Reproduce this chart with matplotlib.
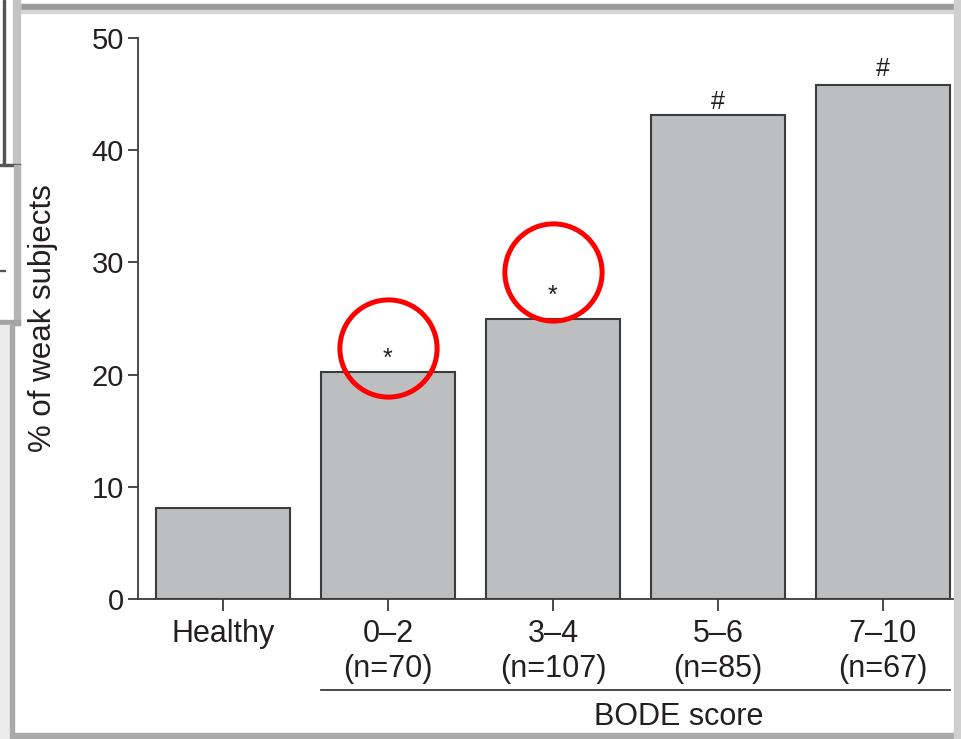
import matplotlib
matplotlib.use('Agg')
import matplotlib.pyplot as plt
import matplotlib.patches as mpatches
import matplotlib.transforms as mtransforms

# data
groups = ['Healthy', '0\u20132\n(n=70)', '3\u20134\n(n=107)', '5\u20136\n(n=85)', '7\u201310\n(n=67)']
pct_weak = [8.1, 20.2, 25.0, 43.1, 45.8]
sig_marks = ['', '*', '*', '#', '#']
sig_offset = [0, 1.2, 2.0, 1.2, 1.4]
circled = [1, 2]            # bars whose mark is circled in red
circle_offset = [2.2, 4.1]

plt.rcParams['font.family'] = ['Liberation Sans', 'DejaVu Sans']
txt = '#231f20'

fig = plt.figure(figsize=(9.61, 7.39), dpi=100)
ax = fig.add_axes([138 / 961, 1 - 599 / 739, 1 - 138 / 961, 561 / 739])

x = list(range(len(groups)))
ax.bar(x, pct_weak, width=0.81, color='#bdbec0', edgecolor='#3c3c3c', linewidth=1.5, zorder=2)

for i, (v, m, off) in enumerate(zip(pct_weak, sig_marks, sig_offset)):
    if m:
        ax.text(i, v + off, m, ha='center', va='center', fontsize=18,
                color=txt, zorder=3)

for i, off in zip(circled, circle_offset):
    ax.plot(i, pct_weak[i] + off, marker='o', markersize=70, markerfacecolor='none',
            markeredgecolor='#ff0000', markeredgewidth=3.6, clip_on=False, zorder=4)

ax.set_xlim(-0.515, 4.473)
ax.set_ylim(0, 50)
ax.set_yticks([0, 10, 20, 30, 40, 50])
ax.set_xticks(x)
ax.set_xticklabels(groups, fontsize=22, color=txt, linespacing=1.2)
ax.tick_params(axis='y', labelsize=21, labelcolor=txt, length=7, width=1.3, pad=3, color='#3c3c3c')
ax.tick_params(axis='x', length=8.5, width=1.3, pad=6, color='#3c3c3c')

for s in ['top', 'right']:
    ax.spines[s].set_visible(False)
for s in ['left', 'bottom']:
    ax.spines[s].set_linewidth(1.3)
    ax.spines[s].set_color('#3c3c3c')

ax.set_ylabel('% of weak subjects', fontsize=22.5, color=txt, labelpad=24)

# BODE score bracket under the COPD groups
trans = mtransforms.blended_transform_factory(ax.transData, ax.transAxes)
ax.plot([1 - 0.405, 4 + 0.405], [-0.162, -0.162], transform=trans, color='#3c3c3c',
        linewidth=1.3, clip_on=False)
ax.text(2.76, -0.21, 'BODE score', transform=trans, ha='center', va='center',
        fontsize=22, color=txt)

# screenshot frame
def frame(x0, y0, w, h, c):
    fig.patches.append(mpatches.Rectangle((x0 / 961, 1 - (y0 + h) / 739), w / 961, h / 739,
                                          transform=fig.transFigure, color=c, zorder=10))

frame(0, 4, 961, 6, '#9b9b9b')
frame(0, 10, 961, 3, '#d6d6d6')
frame(0, 733, 961, 6, '#a9a9a9')
frame(954, 0, 7, 739, '#cfcfcf')
frame(0, 0, 20, 325, '#ffffff')
frame(3, 0, 1.5, 165, '#555555')
frame(13, 0, 7, 165, '#c4c4c4')
frame(0, 164, 20, 1.5, '#555555')
frame(14, 165, 6, 160, '#b4b4b4')
frame(0, 270, 5, 1.2, '#555555')
frame(0, 320, 20, 5, '#a4a4a4')
frame(0, 325, 12, 414, '#ececec')
frame(10, 325, 4, 414, '#aaaaaa')

fig.savefig('out.png', dpi=100)
